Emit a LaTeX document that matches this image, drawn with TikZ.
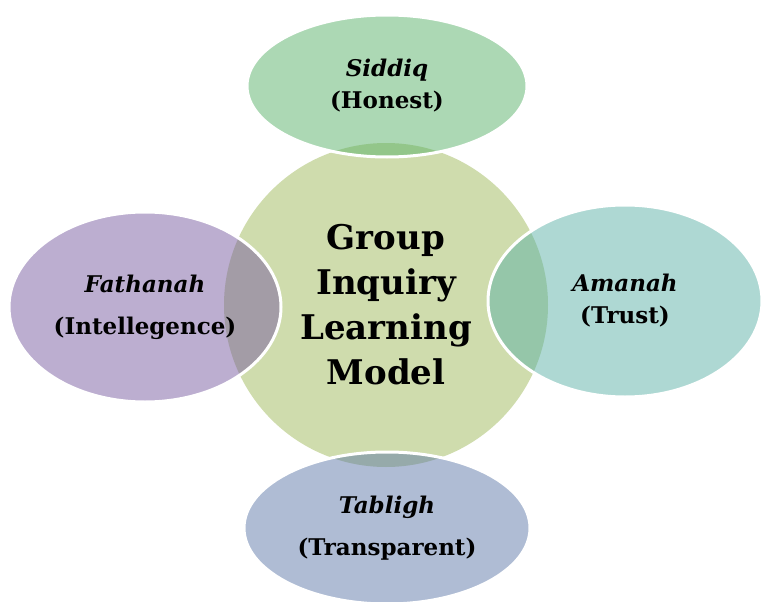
\documentclass[tikz,border=0pt]{standalone}
\usepackage{fontspec}
\setmainfont{DejaVu Serif}
\usetikzlibrary{shapes.geometric}

\definecolor{hubgreen}{RGB}{207,220,173}
\definecolor{leafgreen}{RGB}{89,177,105}
\definecolor{leafteal}{RGB}{93,177,167}
\definecolor{leafpurple}{RGB}{121,93,161}
\definecolor{leafblue}{RGB}{95,121,169}

\begin{document}
\begin{tikzpicture}[x=1pt,y=-1pt,
		hub/.style={circle,fill=hubgreen,minimum size=324pt,inner sep=0pt,align=center,
			font=\bfseries\fontsize{34}{45}\selectfont},
		petal/.style={ellipse,draw=white,line width=3pt,fill opacity=0.5,text opacity=1,
			inner sep=0pt,align=center,font=\bfseries\fontsize{23}{32}\selectfont}]
			\useasboundingbox (0,0) rectangle (761,602);

			% centre circle goes first so the petals overlap it
			\node[hub] (model) at (386,305) {Group\\Inquiry\\Learning\\Model};

			\node[petal,fill=leafgreen,minimum width=280pt,minimum height=142pt] (siddiq) at (387,86)
				{{\itshape Siddiq}\\(Honest)};
			\node[petal,fill=leafteal,minimum width=274pt,minimum height=192pt] (amanah) at (625,301)
				{{\itshape Amanah}\\(Trust)};
			\node[petal,fill=leafpurple,minimum width=272pt,minimum height=190pt] (fathanah) at (145,307)
				{{\itshape Fathanah}\\[10pt](Intellegence)};
			\node[petal,fill=leafblue,minimum width=286pt,minimum height=152pt] (tabligh) at (387,528)
				{{\itshape Tabligh}\\[10pt](Transparent)};
		\end{tikzpicture}
\end{document}
